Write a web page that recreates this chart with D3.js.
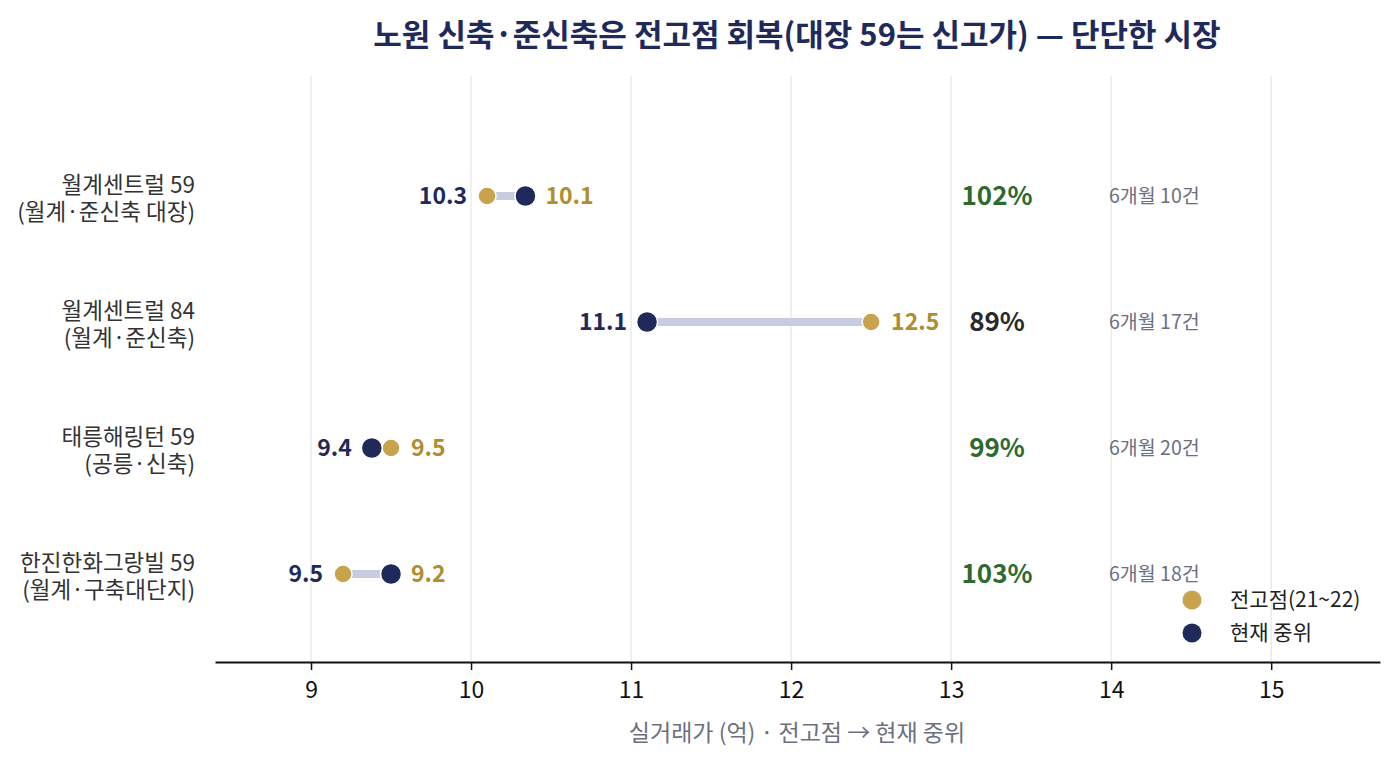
<!DOCTYPE html>
<html>
<head>
<meta charset="utf-8">
<script src="https://cdn.jsdelivr.net/npm/d3@7"></script>
<style>
  body { margin: 0; background: #fff; }
  svg { font-family: "Noto Sans CJK KR", "Noto Sans", sans-serif; }
</style>
</head>
<body>
<div id="chart"></div>
<script>
const width = 1400;
const height = 765;
const marginLeft = 215;
const marginRight = 20;
const marginTop = 76;
const marginBottom = 103;

const names = ["월계센트럴 59", "월계센트럴 84", "태릉해링턴 59", "한진한화그랑빌 59"];
const subNames = ["(월계·준신축 대장)", "(월계·준신축)", "(공릉·신축)", "(월계·구축대단지)"];
const peakValues = [10.1, 12.5, 9.5, 9.2];
const currentValues = [10.34, 11.1, 9.38, 9.5];
const ratioLabels = ["102%", "89%", "99%", "103%"];
const countLabels = ["6개월 10건", "6개월 17건", "6개월 20건", "6개월 18건"];
const xTicks = [9, 10, 11, 12, 13, 14, 15];

const navy = "#1f2a5a";
const gold = "#c9a24c";
const goldText = "#b08d2e";

var svg = d3.select("#chart").append("svg")
    .attr("width", width).attr("height", height);

var x = d3.scaleLinear().domain([8.4, 15.68]).range([marginLeft, width - marginRight]);
var y = d3.scalePoint().domain(names).range([196, 574]);

// Title
svg.append("text")
    .attr("x", 797).attr("y", 46)
    .attr("text-anchor", "middle")
    .style("font-size", "31px").style("font-weight", "bold").style("fill", navy)
    .text("노원 신축·준신축은 전고점 회복(대장 59는 신고가) — 단단한 시장");

// Grid lines
svg.append("g")
    .selectAll("line")
    .data(xTicks)
    .join("line")
    .attr("x1", d => x(d)).attr("x2", d => x(d))
    .attr("y1", marginTop).attr("y2", height - marginBottom)
    .style("stroke", "#e6e6e6").style("stroke-width", 1.2);

// Bottom axis
var axis = svg.append("g")
    .attr("transform", "translate(0," + (height - marginBottom) + ")")
    .call(d3.axisBottom(x).tickValues(xTicks).tickFormat(d3.format("d")).tickSize(8).tickPadding(12).tickSizeOuter(0));
axis.select(".domain").style("stroke", "#111").style("stroke-width", 2);
axis.selectAll(".tick line").style("stroke", "#111").style("stroke-width", 1.5);
axis.selectAll(".tick text").style("font-size", "23px").style("fill", "#111")
    .style("font-family", "'Noto Sans CJK KR', sans-serif");

svg.append("text")
    .attr("x", 797).attr("y", 741)
    .attr("text-anchor", "middle")
    .style("font-size", "23px").style("fill", "#6b7080")
    .text("실거래가 (억) · 전고점 → 현재 중위");

var rows = names.map((n, i) => ({
    name: n, sub: subNames[i], peak: peakValues[i], cur: currentValues[i],
    ratio: ratioLabels[i], count: countLabels[i]
}));

// Row labels, two lines each
svg.append("g").selectAll("text").data(rows).join("text")
    .attr("x", 195).attr("y", d => y(d.name) - 3)
    .attr("text-anchor", "end")
    .style("font-size", "22.5px").style("fill", "#333")
    .text(d => d.name);
svg.append("g").selectAll("text").data(rows).join("text")
    .attr("x", 195).attr("y", d => y(d.name) + 24)
    .attr("text-anchor", "end")
    .style("font-size", "22.5px").style("fill", "#333")
    .text(d => d.sub);

// Connectors
svg.append("g").selectAll("line").data(rows).join("line")
    .attr("x1", d => x(d.peak)).attr("x2", d => x(d.cur))
    .attr("y1", d => y(d.name)).attr("y2", d => y(d.name))
    .style("stroke", "#c9cbe0").style("stroke-width", 8);

// Peak dots
svg.append("g").selectAll("circle").data(rows).join("circle")
    .attr("cx", d => x(d.peak)).attr("cy", d => y(d.name)).attr("r", 9)
    .style("fill", gold).style("stroke", "#fff").style("stroke-width", 1.5);

// Current dots
svg.append("g").selectAll("circle").data(rows).join("circle")
    .attr("cx", d => x(d.cur)).attr("cy", d => y(d.name)).attr("r", 10.5)
    .style("fill", navy).style("stroke", "#fff").style("stroke-width", 1.5);

// Current value label (left of the pair)
svg.append("g").selectAll("text").data(rows).join("text")
    .attr("x", d => x(Math.min(d.peak, d.cur)) - 20)
    .attr("y", d => y(d.name))
    .attr("dy", "0.35em")
    .attr("text-anchor", "end")
    .style("font-size", "23px").style("font-weight", "bold").style("fill", navy)
    .text(d => d.cur.toFixed(1));

// Peak value label (right of the pair)
svg.append("g").selectAll("text").data(rows).join("text")
    .attr("x", d => x(Math.max(d.peak, d.cur)) + 20)
    .attr("y", d => y(d.name))
    .attr("dy", "0.35em")
    .style("font-size", "23px").style("font-weight", "bold").style("fill", goldText)
    .text(d => d.peak.toFixed(1));

// Recovery ratio
svg.append("g").selectAll("text").data(rows).join("text")
    .attr("x", 997).attr("y", d => y(d.name))
    .attr("dy", "0.35em")
    .attr("text-anchor", "middle")
    .style("font-size", "26px").style("font-weight", "bold")
    .style("fill", d => d.cur / d.peak >= 0.985 ? "#2e6a2e" : "#2a2a2a")
    .text(d => d.ratio);

// Trade counts
svg.append("g").selectAll("text").data(rows).join("text")
    .attr("x", 1109).attr("y", d => y(d.name))
    .attr("dy", "0.35em")
    .style("font-size", "19.5px").style("fill", "#6b7080")
    .text(d => d.count);

// Legend
var legendItems = [{ label: "전고점(21~22)", color: gold }, { label: "현재 중위", color: navy }];
var legend = svg.append("g").selectAll("g").data(legendItems).join("g")
    .attr("transform", (d, i) => "translate(1192," + (600 + i * 33) + ")");
legend.append("circle").attr("r", 9.5).style("fill", d => d.color);
legend.append("text").attr("x", 38).attr("dy", "0.35em")
    .style("font-size", "21px").style("fill", "#222")
    .text(d => d.label);
</script>
</body>
</html>
